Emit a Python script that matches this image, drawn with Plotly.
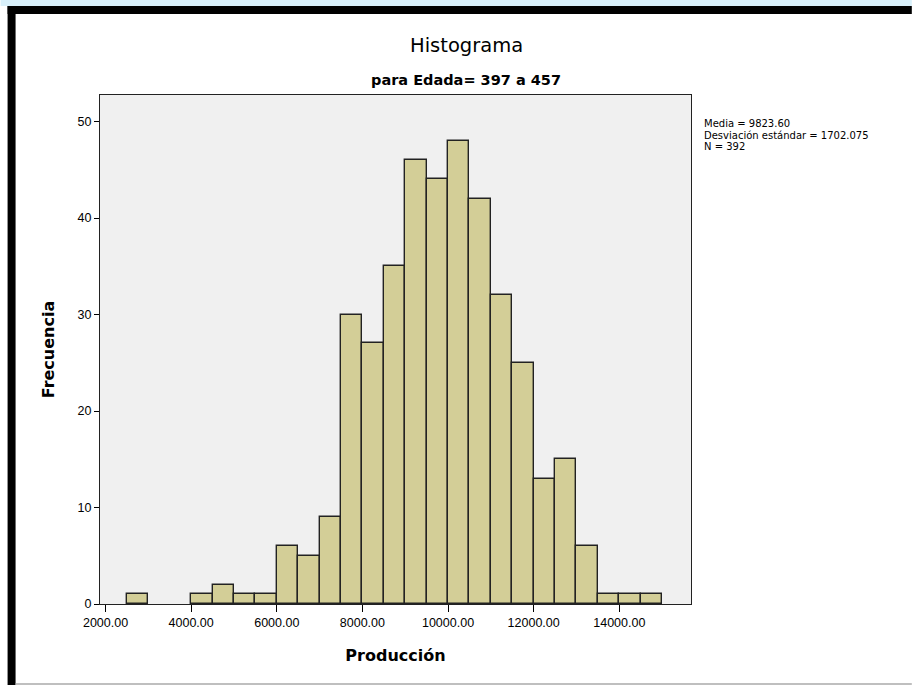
import plotly.graph_objects as go

# Data
bin_lower = [2500, 3000, 3500, 4000, 4500, 5000, 5500, 6000, 6500, 7000, 7500, 8000, 8500,
             9000, 9500, 10000, 10500, 11000, 11500, 12000, 12500, 13000, 13500, 14000, 14500]
counts = [1, 0, 0, 1, 2, 1, 1, 6, 5, 9, 30, 27, 35,
          46, 44, 48, 42, 32, 25, 13, 15, 6, 1, 1, 1]
bin_width = 500
x_ticks = [2000, 4000, 6000, 8000, 10000, 12000, 14000]
y_ticks = [0, 10, 20, 30, 40, 50]
stats_lines = ["Media = 9823.60", "Desviación estándar = 1702.075", "N = 392"]

FONT = "Liberation Sans, Arial, sans-serif"
WIDE = "DejaVu Sans, Verdana, sans-serif"

fig = go.Figure()
fig.add_trace(go.Bar(
    x=bin_lower, y=[c if c > 0 else None for c in counts],
    width=[bin_width] * len(bin_lower), offset=0,
    marker=dict(color="#D3CE97", line=dict(color="#222222", width=1.4)),
    hoverinfo="x+y",
))

W, H = 912, 685
L, R, T, B = 99.5, 691, 95, 604
fig.update_layout(
    width=W, height=H,
    margin=dict(l=L, r=W - R, t=T, b=H - B),
    paper_bgcolor="white", plot_bgcolor="#F0F0F0",
    showlegend=False, bargap=0,
    font=dict(family=FONT, color="black", size=12),
    xaxis=dict(range=[1871, 15675], tickvals=x_ticks,
               ticktext=[f"{v:.2f}" for v in x_ticks],
               ticks="outside", ticklen=7, tickcolor="black", tickwidth=1.3,
               showline=True, linecolor="#222", linewidth=1.3, mirror=True,
               showgrid=False, zeroline=False,
               tickfont=dict(size=12.5, family=FONT),
               title=dict(text="<b>Producción</b>", font=dict(size=16, family=WIDE), standoff=20)),
    yaxis=dict(range=[0, 52.75], tickvals=y_ticks,
               ticks="outside", ticklen=5, tickcolor="black", tickwidth=1.3,
               showline=True, linecolor="#222", linewidth=1.3, mirror=True,
               showgrid=False, zeroline=False,
               tickfont=dict(size=12.5, family=FONT),
               title=dict(text="<b>Frecuencia</b>", font=dict(size=16, family=WIDE), standoff=18)),
)

def px(x):
    return (x - L) / (R - L)

def py(y):
    return (B - y) / (B - T)

# Titles
fig.add_annotation(xref="paper", yref="paper", x=px(466), y=py(45),
                   text="Histograma", showarrow=False, font=dict(size=19.5, family=WIDE),
                   xanchor="center", yanchor="middle")
fig.add_annotation(xref="paper", yref="paper", x=px(466), y=py(80),
                   text="<b>para Edada= 397 a 457</b>", showarrow=False, font=dict(size=14.5, family=WIDE),
                   xanchor="center", yanchor="middle")
# Stats text lines
for i, line in enumerate(stats_lines):
    fig.add_annotation(xref="paper", yref="paper", x=px(703), y=py(124 + 11 * i),
                       text=line, showarrow=False, align="left",
                       font=dict(size=10, family=WIDE), xanchor="left", yanchor="middle",
                       borderpad=0)

# Outer frame decoration
shapes = [
    dict(type="rect", xref="paper", yref="paper", x0=px(0), x1=px(W), y0=py(6), y1=py(0),
         fillcolor="#d8f0fa", line=dict(width=0), layer="below"),
    dict(type="rect", xref="paper", yref="paper", x0=px(7), x1=px(W), y0=py(14), y1=py(6),
         fillcolor="black", line=dict(width=0)),
    dict(type="rect", xref="paper", yref="paper", x0=px(7), x1=px(15), y0=py(H), y1=py(6),
         fillcolor="black", line=dict(width=0)),
    dict(type="line", xref="paper", yref="paper", x0=px(15), x1=px(W), y0=py(684), y1=py(684),
         line=dict(color="#aaaaaa", width=1.5)),
]
fig.update_layout(shapes=shapes)

fig.write_html("out.html")
